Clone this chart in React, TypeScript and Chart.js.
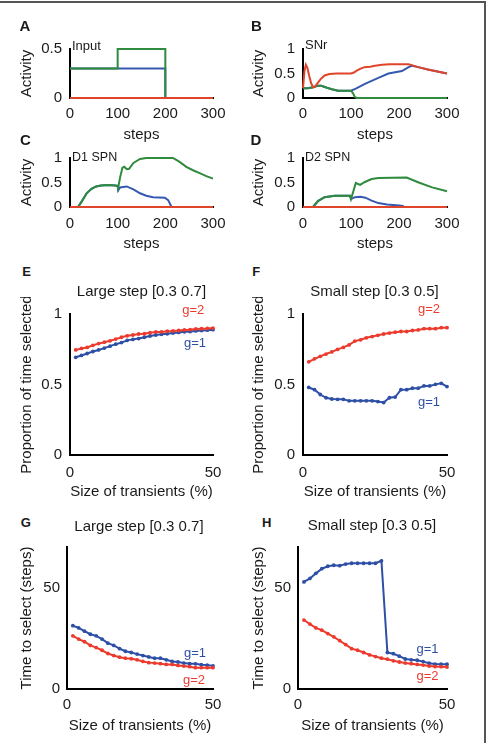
import React, { useEffect, useRef } from "react";
import { Chart, registerables } from "chart.js";
Chart.register(...registerables);

const FONT = "'Liberation Sans', Arial, Helvetica, sans-serif";
const RED = "#e0452c";
const GREEN = "#2f8b3d";
const BLUE = "#3559b0";
const RED2 = "#ec3b2e";
const BLUE2 = "#2e4fa6";
const INK = "#1a1a1a";

// ---- Panel A: Input ----
const inputTime = [0, 100, 100, 200, 200, 300];
const inputGreen = [0.3, 0.3, 0.5, 0.5, 0, 0];
const inputBlue = [0.3, 0.3, 0.3, 0.3, 0, 0];
const inputRedTime = [0, 300];
const inputRed = [0, 0];

// ---- Panel B: SNr ----
const snrRedTime = [0, 3, 6, 9, 13, 17, 21, 25, 30, 38, 45, 55, 70, 90, 100, 106, 112, 120, 128, 140, 150, 165, 180, 200, 220, 240, 260, 280, 300];
const snrRed = [0.2, 0.55, 0.68, 0.62, 0.45, 0.3, 0.22, 0.23, 0.3, 0.4, 0.46, 0.49, 0.5, 0.5, 0.5, 0.52, 0.56, 0.6, 0.63, 0.64, 0.66, 0.68, 0.69, 0.69, 0.69, 0.63, 0.58, 0.54, 0.5];
const snrGreenTime = [0, 10, 21, 30, 38, 50, 60, 73, 90, 100, 104, 108, 112, 300];
const snrGreen = [0.2, 0.2, 0.22, 0.25, 0.25, 0.21, 0.18, 0.15, 0.15, 0.15, 0.1, 0.02, 0, 0];
const snrBlueTime = [0, 10, 21, 30, 38, 50, 60, 73, 90, 100, 110, 129, 157, 178, 206, 220, 227, 240, 260, 280, 300];
const snrBlue = [0.2, 0.2, 0.22, 0.25, 0.25, 0.21, 0.18, 0.15, 0.15, 0.15, 0.19, 0.29, 0.41, 0.5, 0.55, 0.63, 0.66, 0.63, 0.58, 0.54, 0.5];

// ---- Panel C: D1 SPN ----
const d1GreenTime = [0, 17, 25, 35, 45, 55, 65, 80, 95, 100, 101, 105, 110, 114, 119, 124, 133, 147, 160, 180, 200, 216, 230, 244, 258, 272, 286, 300];
const d1Green = [0, 0, 0.12, 0.28, 0.37, 0.42, 0.44, 0.45, 0.44, 0.43, 0.39, 0.6, 0.8, 0.82, 0.77, 0.78, 0.9, 0.98, 1.0, 1.0, 1.0, 1.0, 0.92, 0.82, 0.75, 0.69, 0.63, 0.58];
const d1BlueTime = [0, 17, 25, 35, 45, 55, 65, 80, 95, 100, 101, 105, 119, 133, 147, 160, 174, 199, 206, 213, 300];
const d1Blue = [0, 0, 0.12, 0.28, 0.37, 0.42, 0.44, 0.45, 0.44, 0.43, 0.34, 0.4, 0.42, 0.36, 0.28, 0.23, 0.2, 0.19, 0.14, 0, 0];
const d1RedTime = [0, 300];
const d1Red = [0, 0];

// ---- Panel D: D2 SPN ----
const d2GreenTime = [0, 21, 31, 45, 66, 98, 100, 110, 119, 129, 143, 157, 216, 241, 269, 300];
const d2Green = [0, 0, 0.12, 0.2, 0.23, 0.23, 0.16, 0.49, 0.45, 0.51, 0.57, 0.59, 0.6, 0.5, 0.4, 0.32];
const d2BlueTime = [0, 21, 31, 45, 66, 98, 100, 108, 120, 130, 143, 157, 175, 200, 208, 210, 300];
const d2Blue = [0, 0, 0.12, 0.2, 0.23, 0.23, 0.16, 0.2, 0.21, 0.19, 0.13, 0.08, 0.05, 0.03, 0.02, 0, 0];
const d2RedTime = [0, 300];
const d2Red = [0, 0];

// ---- Panels E–H ----
const transients = [2, 4, 6, 8, 10, 12, 14, 16, 18, 20, 22, 24, 26, 28, 30, 32, 34, 36, 38, 40, 42, 44, 46, 48, 50];
const largePropG2 = [0.745, 0.756, 0.763, 0.778, 0.79, 0.8, 0.81, 0.822, 0.835, 0.845, 0.851, 0.858, 0.86, 0.867, 0.873, 0.873, 0.878, 0.88, 0.883, 0.887, 0.889, 0.894, 0.896, 0.897, 0.9];
const largePropG1 = [0.693, 0.706, 0.72, 0.734, 0.745, 0.758, 0.772, 0.786, 0.797, 0.813, 0.82, 0.826, 0.835, 0.844, 0.851, 0.856, 0.86, 0.865, 0.869, 0.874, 0.876, 0.88, 0.883, 0.885, 0.889];
const smallPropG2 = [0.661, 0.682, 0.7, 0.716, 0.731, 0.749, 0.763, 0.781, 0.808, 0.817, 0.831, 0.84, 0.849, 0.858, 0.865, 0.871, 0.876, 0.876, 0.883, 0.887, 0.896, 0.896, 0.896, 0.903, 0.903];
const smallPropG1 = [0.479, 0.463, 0.429, 0.406, 0.397, 0.395, 0.395, 0.384, 0.384, 0.384, 0.384, 0.384, 0.379, 0.372, 0.406, 0.411, 0.463, 0.463, 0.474, 0.474, 0.49, 0.49, 0.501, 0.508, 0.485];
const largeTimeG1 = [31.2, 30.1, 28.5, 27.0, 26.2, 24.6, 22.6, 21.5, 19.9, 18.6, 18.0, 17.2, 16.5, 15.8, 15.2, 15.2, 14.4, 13.6, 13.3, 12.8, 12.5, 12.4, 12.0, 11.8, 11.4];
const largeTimeG2 = [26.2, 24.6, 23.3, 21.5, 20.4, 19.1, 17.5, 16.5, 15.7, 15.2, 14.9, 14.4, 13.6, 13.0, 12.8, 12.5, 12.1, 12.1, 11.6, 11.3, 11.0, 10.5, 10.5, 10.5, 10.5];
const smallTimeG1 = [52.8, 54.5, 57.0, 59.3, 60.5, 61.0, 60.8, 61.6, 62.0, 62.0, 62.0, 62.0, 62.0, 63.2, 18.0, 17.4, 16.2, 14.8, 14.4, 14.2, 13.5, 12.7, 12.3, 12.2, 12.2];
const smallTimeG2 = [34.0, 32.0, 30.1, 29.0, 27.3, 25.7, 23.8, 21.9, 19.9, 19.1, 18.0, 16.8, 16.0, 15.2, 14.7, 13.9, 13.3, 12.8, 12.5, 12.1, 11.8, 11.3, 11.1, 11.0, 10.8];

const stepTicks = [0, 100, 200, 300];
const activityTicksA = [0, 0.5];
const activityTicks = [0, 0.5, 1];
const transientTicks = [0, 50];
const timeTicks = [0, 50];

type Series = { xs: number[]; ys: number[]; color: string; points?: boolean };

type PanelProps = {
  canvasLeft: number;
  chartLeft: number;
  chartRight: number;
  chartTop: number;
  chartBottom: number;
  xScaleHeight: number;
  xMax: number;
  yMax: number;
  xTicks: number[];
  yTicks: number[];
  xTitle: string;
  yTitle: string;
  xPad: number;
  yPad: number;
  series: Series[];
};

function Panel(p: PanelProps) {
  const ref = useRef<HTMLCanvasElement>(null);
  const T = 10;
  const R = 22;
  const W = p.chartLeft - p.canvasLeft;
  const H = p.xScaleHeight;
  const top = p.chartTop - T;
  const width = p.chartRight + R - p.canvasLeft;
  const height = T + (p.chartBottom - p.chartTop) + H;

  useEffect(() => {
    const tickFont = { family: FONT, size: 15, lineHeight: 1.2 };
    const chart = new Chart(ref.current as HTMLCanvasElement, {
      type: "line",
      data: {
        datasets: p.series.map((s) => ({
          data: s.xs.map((x, i) => ({ x, y: s.ys[i] })),
          borderColor: s.color,
          backgroundColor: s.color,
          borderWidth: 2,
          pointRadius: s.points ? 1.9 : 0,
          pointBorderWidth: 0,
          pointBackgroundColor: s.color,
          tension: 0,
          fill: false,
          clip: false as any,
        })),
      },
      options: {
        responsive: false,
        animation: false,
        devicePixelRatio: 1,
        events: [],
        layout: { padding: { top: T, right: R, left: 0, bottom: 0 } },
        plugins: {
          legend: { display: false },
          tooltip: { enabled: false },
          title: { display: false },
        },
        scales: {
          x: {
            type: "linear",
            min: 0,
            max: p.xMax,
            afterFit: (s: any) => {
              s.height = H;
            },
            afterBuildTicks: (s: any) => {
              s.ticks = p.xTicks.map((v) => ({ value: v }));
            },
            grid: { display: false, drawTicks: false },
            border: { display: true, color: "#000", width: 2 },
            ticks: {
              padding: p.xPad,
              color: INK,
              font: tickFont,
              maxRotation: 0,
              autoSkip: false,
              callback: (v: any) => String(v),
            },
            title: { display: true, text: p.xTitle, color: INK, font: tickFont, padding: 0 },
          },
          y: {
            type: "linear",
            min: 0,
            max: p.yMax,
            afterFit: (s: any) => {
              s.width = W;
            },
            afterBuildTicks: (s: any) => {
              s.ticks = p.yTicks.map((v) => ({ value: v }));
            },
            grid: { display: false, drawTicks: false },
            border: { display: true, color: "#000", width: 2 },
            ticks: {
              padding: p.yPad,
              color: INK,
              font: tickFont,
              autoSkip: false,
              callback: (v: any) => String(v),
            },
            title: { display: true, text: p.yTitle, color: INK, font: tickFont, padding: 0 },
          },
        },
      } as any,
    });
    return () => chart.destroy();
  }, []);

  return (
    <canvas
      ref={ref}
      width={width}
      height={height}
      style={{ position: "absolute", left: p.canvasLeft, top, width, height }}
    />
  );
}

type LabelProps = {
  text: string;
  x: number;
  y: number;
  size: number;
  bold?: boolean;
  color?: string;
  align?: "center" | "left";
};

function Label({ text, x, y, size, bold, color, align = "center" }: LabelProps) {
  return (
    <div
      style={{
        position: "absolute",
        left: x,
        top: y,
        transform: align === "center" ? "translate(-50%, -50%)" : "translate(0, -50%)",
        fontFamily: FONT,
        fontSize: size,
        fontWeight: bold ? "bold" : "normal",
        color: color || INK,
        lineHeight: 1,
        whiteSpace: "nowrap",
      }}
    >
      {text}
    </div>
  );
}

export default function App() {
  const leftCanvas = 18;
  const rightCanvas = 250;
  return (
    <div
      style={{
        position: "absolute",
        left: 0,
        top: 0,
        width: 489,
        height: 743,
        overflow: "hidden",
        background: "#fff",
      }}
    >
      <div
        style={{
          position: "absolute",
          left: -10,
          top: 1,
          width: 496,
          height: 760,
          boxSizing: "border-box",
          borderTop: "2px solid #555",
          borderRight: "2px solid #555",
        }}
      />

      {/* A */}
      <Panel
        canvasLeft={leftCanvas}
        chartLeft={70}
        chartRight={213}
        chartTop={42}
        chartBottom={98}
        xScaleHeight={46}
        xMax={300}
        yMax={0.5}
        xTicks={stepTicks}
        yTicks={activityTicksA}
        xTitle="steps"
        yTitle="Activity"
        xPad={7}
        yPad={8}
        series={[
          { xs: inputRedTime, ys: inputRed, color: RED },
          { xs: inputTime, ys: inputGreen, color: GREEN },
          { xs: inputTime, ys: inputBlue, color: BLUE },
        ]}
      />
      {/* B */}
      <Panel
        canvasLeft={rightCanvas}
        chartLeft={303}
        chartRight={447}
        chartTop={42}
        chartBottom={98}
        xScaleHeight={46}
        xMax={300}
        yMax={1}
        xTicks={stepTicks}
        yTicks={activityTicks}
        xTitle="steps"
        yTitle="Activity"
        xPad={7}
        yPad={8}
        series={[
          { xs: snrRedTime, ys: snrRed, color: RED },
          { xs: snrGreenTime, ys: snrGreen, color: GREEN },
          { xs: snrBlueTime, ys: snrBlue, color: BLUE },
        ]}
      />
      {/* C */}
      <Panel
        canvasLeft={leftCanvas}
        chartLeft={70}
        chartRight={213}
        chartTop={151}
        chartBottom={207}
        xScaleHeight={46}
        xMax={300}
        yMax={1}
        xTicks={stepTicks}
        yTicks={activityTicks}
        xTitle="steps"
        yTitle="Activity"
        xPad={8}
        yPad={8}
        series={[
          { xs: d1RedTime, ys: d1Red, color: RED },
          { xs: d1GreenTime, ys: d1Green, color: GREEN },
          { xs: d1BlueTime, ys: d1Blue, color: BLUE },
        ]}
      />
      {/* D */}
      <Panel
        canvasLeft={rightCanvas}
        chartLeft={303}
        chartRight={447}
        chartTop={151}
        chartBottom={207}
        xScaleHeight={46}
        xMax={300}
        yMax={1}
        xTicks={stepTicks}
        yTicks={activityTicks}
        xTitle="steps"
        yTitle="Activity"
        xPad={8}
        yPad={8}
        series={[
          { xs: d2RedTime, ys: d2Red, color: RED },
          { xs: d2GreenTime, ys: d2Green, color: GREEN },
          { xs: d2BlueTime, ys: d2Blue, color: BLUE },
        ]}
      />
      {/* E */}
      <Panel
        canvasLeft={leftCanvas}
        chartLeft={70}
        chartRight={213}
        chartTop={307}
        chartBottom={455}
        xScaleHeight={46}
        xMax={50}
        yMax={1}
        xTicks={transientTicks}
        yTicks={activityTicks}
        xTitle="Size of transients (%)"
        yTitle="Proportion of time selected"
        xPad={9}
        yPad={8}
        series={[
          { xs: transients, ys: largePropG2, color: RED2, points: true },
          { xs: transients, ys: largePropG1, color: BLUE2, points: true },
        ]}
      />
      {/* F */}
      <Panel
        canvasLeft={rightCanvas}
        chartLeft={303}
        chartRight={447}
        chartTop={307}
        chartBottom={455}
        xScaleHeight={46}
        xMax={50}
        yMax={1}
        xTicks={transientTicks}
        yTicks={activityTicks}
        xTitle="Size of transients (%)"
        yTitle="Proportion of time selected"
        xPad={9}
        yPad={8}
        series={[
          { xs: transients, ys: smallPropG2, color: RED2, points: true },
          { xs: transients, ys: smallPropG1, color: BLUE2, points: true },
        ]}
      />
      {/* G */}
      <Panel
        canvasLeft={leftCanvas}
        chartLeft={67}
        chartRight={213}
        chartTop={541}
        chartBottom={689}
        xScaleHeight={46}
        xMax={50}
        yMax={70}
        xTicks={transientTicks}
        yTicks={timeTicks}
        xTitle="Size of transients (%)"
        yTitle="Time to select (steps)"
        xPad={7}
        yPad={7}
        series={[
          { xs: transients, ys: largeTimeG2, color: RED2, points: true },
          { xs: transients, ys: largeTimeG1, color: BLUE2, points: true },
        ]}
      />
      {/* H */}
      <Panel
        canvasLeft={rightCanvas}
        chartLeft={298}
        chartRight={447}
        chartTop={541}
        chartBottom={689}
        xScaleHeight={46}
        xMax={50}
        yMax={70}
        xTicks={transientTicks}
        yTicks={timeTicks}
        xTitle="Size of transients (%)"
        yTitle="Time to select (steps)"
        xPad={7}
        yPad={7}
        series={[
          { xs: transients, ys: smallTimeG2, color: RED2, points: true },
          { xs: transients, ys: smallTimeG1, color: BLUE2, points: true },
        ]}
      />

      {/* Panel letters */}
      <Label text="A" x={25} y={24.5} size={15} bold />
      <Label text="B" x={256.5} y={24.5} size={15} bold />
      <Label text="C" x={25.5} y={139} size={15} bold />
      <Label text="D" x={256} y={139} size={15} bold />
      <Label text="E" x={26.7} y={271} size={13} bold />
      <Label text="F" x={256.2} y={271} size={13} bold />
      <Label text="G" x={25.7} y={522} size={13} bold />
      <Label text="H" x={266.7} y={522} size={13} bold />

      {/* inset labels */}
      <Label text="Input" x={72} y={44.5} size={13} align="left" />
      <Label text="SNr" x={305} y={44} size={13} align="left" />
      <Label text="D1 SPN" x={72} y={156.5} size={12.5} align="left" />
      <Label text="D2 SPN" x={305} y={157} size={12.5} align="left" />

      {/* titles */}
      <Label text="Large step [0.3 0.7]" x={141.5} y={290} size={15} />
      <Label text="Small step [0.3 0.5]" x={374.5} y={290} size={15} />
      <Label text="Large step [0.3 0.7]" x={139} y={525} size={15} />
      <Label text="Small step [0.3 0.5]" x={372} y={524} size={15} />

      {/* g labels */}
      <Label text="g=2" x={193.3} y={309} size={13} color={RED2} />
      <Label text="g=1" x={195} y={342} size={13} color={BLUE2} />
      <Label text="g=2" x={429} y={308.3} size={13} color={RED2} />
      <Label text="g=1" x={429} y={400.7} size={13} color={BLUE2} />
      <Label text="g=1" x={195} y={651.7} size={13} color={BLUE2} />
      <Label text="g=2" x={194} y={679.3} size={13} color={RED2} />
      <Label text="g=1" x={427.5} y={648.3} size={13} color={BLUE2} />
      <Label text="g=2" x={427.5} y={675} size={13} color={RED2} />
    </div>
  );
}
